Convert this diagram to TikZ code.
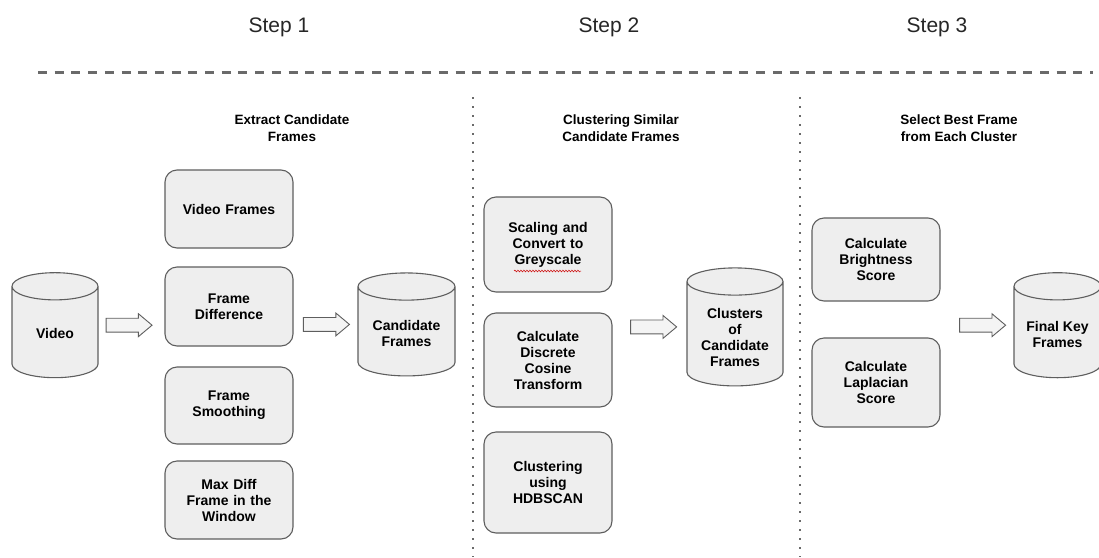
\documentclass[tikz,border=0pt]{standalone}
\usepackage{fontspec}
\setmainfont{Liberation Sans}
\usetikzlibrary{shapes.geometric,shapes.arrows,decorations.pathmorphing,calc}
\definecolor{boxfill}{HTML}{EEEEEE}
\definecolor{boxline}{HTML}{5E5E5E}
\definecolor{arrowfill}{HTML}{F4F4F4}
\definecolor{rulegrey}{HTML}{6A6A6A}
\tikzset{
  stage/.style={draw=boxline, fill=boxfill, line width=1.1pt, rounded corners=12pt,
    minimum width=128pt, text width=120pt, align=center, inner sep=0pt,
    font=\bfseries\fontsize{14}{16}\selectfont},
  store/.style={cylinder, shape border rotate=90, aspect=0.68, draw=boxline, fill=boxfill,
    line width=1.1pt, inner sep=20pt},
  storetext/.style={align=center, yshift=4.5pt, font=\bfseries\fontsize{14}{16}\selectfont},
  flow/.style={single arrow, draw=boxline, fill=arrowfill, line width=0.9pt,
    minimum height=46pt, minimum width=0pt, inner xsep=0pt, inner ysep=6.5pt,
    single arrow head extend=4.5pt, single arrow tip angle=80},
  steplabel/.style={font=\fontsize{21}{24}\selectfont, text=black!85},
  phase/.style={align=center, font=\bfseries\fontsize{13.5}{17}\selectfont},
  divider/.style={rulegrey, line width=1.6pt, dash pattern=on 1.6pt off 7.4pt},
}
\begin{document}
\begin{tikzpicture}[x=1pt,y=-1pt]
  \useasboundingbox (0,0) rectangle (1099,557);
  \node[steplabel] (s1) at (279,27) {Step 1};
  \node[steplabel] (s2) at (609,27) {Step 2};
  \node[steplabel] (s3) at (937,27) {Step 3};
  \draw[rulegrey, line width=2.2pt, dash pattern=on 9pt off 7.7pt] (38,72.5) -- (1093,72.5);
  \draw[divider] (473,97) -- (473,557);
  \draw[divider] (800,97) -- (800,557);
  \node[phase] (t1) at (292,128.5) {Extract Candidate\\Frames};
  \node[phase] (t2) at (621,128.5) {Clustering Similar\\Candidate Frames};
  \node[phase] (t3) at (959,128.5) {Select Best Frame\\from Each Cluster};

  \node[store, minimum width=86pt, minimum height=105pt, label={[storetext]center:Video}] (video) at (55,338) {};
  \node[stage, minimum height=78pt] (frames) at (229,209) {Video Frames};
  \node[stage, minimum height=79pt] (diff) at (229,306.5) {Frame\\Difference};
  \node[stage, minimum height=77pt] (smooth) at (229,405.5) {Frame\\Smoothing};
  \node[stage, minimum height=78pt] (maxdiff) at (229,500) {Max Diff\\Frame in the\\Window};
  \node[store, minimum width=97pt, minimum height=103pt, label={[storetext, yshift=-0.5pt]center:Candidate\\Frames}] (cand) at (406.5,337) {};

  \node[stage, minimum height=95pt] (scale) at (548,244.5) {Scaling and\\Convert to\\Greyscale};
  \node[stage, minimum height=94pt] (dct) at (548,360) {Calculate\\Discrete\\Cosine\\Transform};
  \node[stage, minimum height=101pt] (hdb) at (548,482.5) {Clustering\\using\\HDBSCAN};
  \node[store, minimum width=96pt, minimum height=118pt, label={[storetext, yshift=-2pt]center:Clusters\\of\\Candidate\\Frames}] (clusters) at (735,339.5) {};

  \node[stage, minimum height=83pt] (bright) at (876,259.5) {Calculate\\Brightness\\Score};
  \node[stage, minimum height=89pt] (lap) at (876,382.5) {Calculate\\Laplacian\\Score};
  \node[store, minimum width=87pt, minimum height=105pt, label={[storetext, yshift=-0.5pt]center:Final Key\\Frames}] (final) at (1057.5,338) {};

  \draw[red!80!black, line width=0.5pt, decorate, decoration={snake, amplitude=0.9pt, segment length=3pt}]
    ($(scale.center)+(-34,26.5)$) -- ($(scale.center)+(33,26.5)$);

  \path (video.east |- video.shape center) -- (video.shape center -| diff.west) node[flow, pos=0.40] (a1) {};
  \path (diff.east |- cand.shape center) -- (cand.west |- cand.shape center) node[flow, pos=0.45] (a2) {};
  \path (dct.east |- clusters.shape center) -- (clusters.west |- clusters.shape center) node[flow, pos=0.5] (a3) {};
  \path (bright.east |- final.shape center) -- (final.west |- final.shape center) node[flow, pos=0.52] (a4) {};
\end{tikzpicture}
\end{document}
